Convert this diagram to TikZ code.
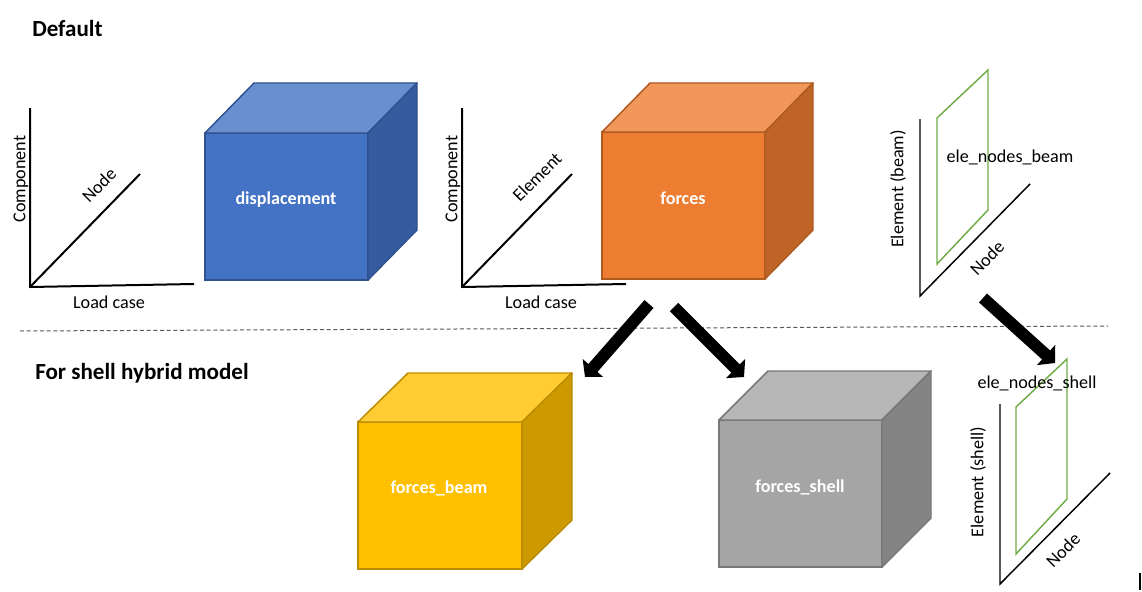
\documentclass[tikz,border=0pt]{standalone}
\usepackage{fontspec}
\setmainfont{Carlito}
\usetikzlibrary{arrows.meta}
\definecolor{bluefront}{HTML}{4472C4}
\definecolor{bluetop}{HTML}{6A8FCF}
\definecolor{blueside}{HTML}{365C9F}
\definecolor{blueedge}{HTML}{2F528F}
\definecolor{orangefront}{HTML}{ED7D31}
\definecolor{orangetop}{HTML}{F1975A}
\definecolor{orangeside}{HTML}{BE6427}
\definecolor{orangeedge}{HTML}{AE5A21}
\definecolor{yellowfront}{HTML}{FFC000}
\definecolor{yellowtop}{HTML}{FFCD33}
\definecolor{yellowside}{HTML}{CC9A00}
\definecolor{yellowedge}{HTML}{BC8C00}
\definecolor{grayfront}{HTML}{A5A5A5}
\definecolor{graytop}{HTML}{B7B7B7}
\definecolor{grayside}{HTML}{848484}
\definecolor{grayedge}{HTML}{787878}
\definecolor{framegreen}{HTML}{70AD47}
\definecolor{dashgray}{HTML}{595959}
\newcommand\mycube[8]{%
  \node[cubeface, fill=#8front, draw=#8edge, minimum width=#4*0.75pt, minimum height=#5*0.75pt, anchor=north west] (#1) at (#2,#3) {};
  \filldraw[cubeedge, fill=#8top, draw=#8edge] (#1.north west) -- ++(#6,-#7) -- ++(#4,0) -- (#1.north east) -- cycle;
  \filldraw[cubeedge, fill=#8side, draw=#8edge] (#1.north east) -- ++(#6,-#7) -- ++(0,#5) -- (#1.south east) -- cycle;
}
\begin{document}
\begin{tikzpicture}[x=0.75pt,y=-0.75pt,
  txt/.style={font=\fontsize{13.6}{16}\selectfont, inner sep=0pt},
  head/.style={font=\bfseries\fontsize{17.3}{20}\selectfont, inner sep=0pt, anchor=base west},
  cubelabel/.style={font=\bfseries\fontsize{13.6}{16}\selectfont, text=white, inner sep=0pt},
  cubeface/.style={rectangle, line width=1.1pt, inner sep=0pt, outer sep=0pt},
  cubeedge/.style={line width=1.1pt, line join=round},
  axisline/.style={line width=1.5pt},
  thinaxis/.style={line width=1.1pt},
  greenframe/.style={draw=framegreen, line width=1.1pt},
  dashline/.style={draw=dashgray, line width=0.75pt, dash pattern=on 3pt off 2pt},
  bigarrow/.style={line width=9pt, -{Triangle[length=9pt,width=20pt]}}
]
\useasboundingbox (0,0) rectangle (1142,592);
\fill[white] (0,0) rectangle (1142,592);

% headings
\node[head] (hdefault) at (32,37) {Default};
\node[head] (hshell) at (35,379) {For shell hybrid model};

% axes 1
\draw[axisline] (30,108) -- (30,287) -- (194,284);
\draw[axisline] (30,287) -- (140,174);
\node[txt, rotate=90] (lcomp1) at (21,179) {Component};
\node[txt, rotate=45] (lnode1) at (99,185) {Node};
\node[txt] (lload1) at (109,302) {Load case};

% displacement cube
\mycube{disp}{205}{133}{163}{147}{49}{50}{blue}
\node[cubelabel] (ldisp) at (286,200) {displacement};

% axes 2
\draw[axisline] (462,108) -- (462,287) -- (626,284);
\draw[axisline] (462,287) -- (572,174);
\node[txt, rotate=90] (lcomp2) at (453,179) {Component};
\node[txt, rotate=45] (lelem) at (537,177) {Element};
\node[txt] (lload2) at (541,302) {Load case};

% forces cube
\mycube{forces}{602}{132}{163}{147}{48}{49}{orange}
\node[cubelabel] (lforces) at (683,198) {forces};

% beam frame
\draw[thinaxis] (920,119) -- (920,296) -- (1030,184);
\draw[greenframe] (937,118) -- (988,70) -- (988,210) -- (937,264) -- cycle;
\node[txt] (lbeam) at (1010,157) {ele\_nodes\_beam};
\node[txt, rotate=90] (lelbeam) at (898,189) {Element (beam)};
\node[txt, rotate=45] (lnode2) at (987,258) {Node};

% dashed separator
\draw[dashline] (20,331) -- (1108,326);

% lower cubes
\mycube{fbeam}{358}{422}{164}{147}{50}{49}{yellow}
\node[cubelabel] (lfbeam) at (439,488) {forces\_beam};
\mycube{fshell}{719}{420}{163}{147}{49}{49}{gray}
\node[cubelabel] (lfshell) at (800,487) {forces\_shell};

% shell frame
\draw[thinaxis] (1000,404) -- (1000,584) -- (1110,473);
\draw[greenframe] (1016,407) -- (1067,359) -- (1067,499) -- (1016,554) -- cycle;
\node[txt] (lshell) at (1037,383) {ele\_nodes\_shell};
\node[txt, rotate=90] (lelshell) at (978,482) {Element (shell)};
\node[txt, rotate=45] (lnode3) at (1063,550) {Node};

% arrows
\coordinate (a1s) at (649,304);
\coordinate (a1e) at (585,377);
\coordinate (a2s) at (674,307);
\coordinate (a2e) at (744,377);
\coordinate (a3s) at (983,298);
\coordinate (a3e) at (1055,363);
\draw[bigarrow] (a1s) -- (a1e);
\draw[bigarrow] (a2s) -- (a2e);
\draw[bigarrow] (a3s) -- (a3e);

% small mark at bottom right
\draw[line width=1.2pt] (1140,573) -- (1140,590);
\end{tikzpicture}
\end{document}
